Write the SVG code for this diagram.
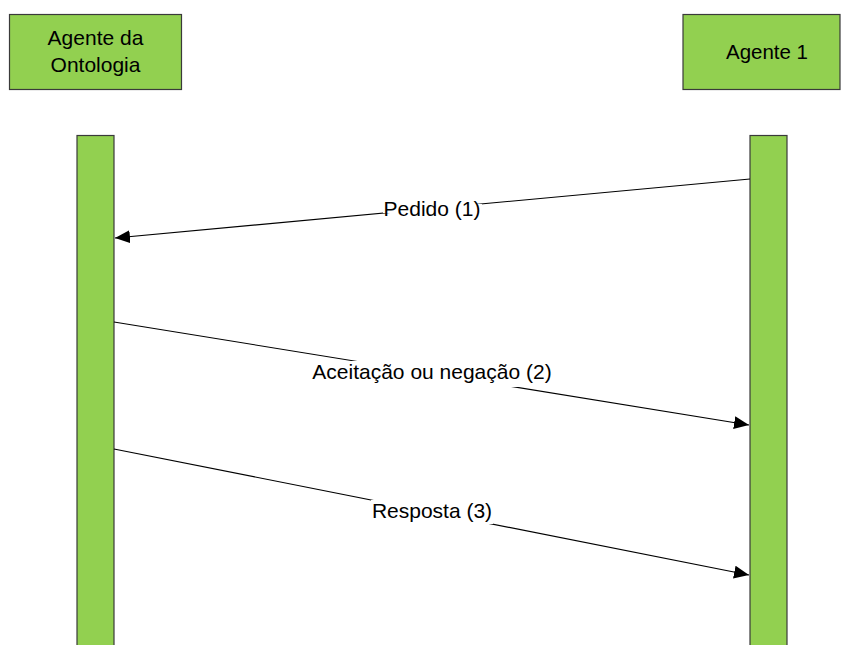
<svg xmlns="http://www.w3.org/2000/svg" width="841" height="645" viewBox="0 0 841 645">
  <style>
    .box { fill: #92d050; stroke: #3a3a3a; stroke-width: 1.2; }
    .bar { fill: #92d050; stroke: #3a3a3a; stroke-width: 1.2; }
    .lbl { font-family: "Liberation Sans", Arial, sans-serif; font-size: 21px; fill: #000; text-anchor: middle; }
    .msg { stroke: #000; stroke-width: 1.1; fill: none; marker-end: url(#arrow); }
    .gap { fill: #fff; }
  </style>
  <defs>
    <marker id="arrow" viewBox="0 0 15 13" refX="15" refY="6.5" markerWidth="15" markerHeight="13" markerUnits="userSpaceOnUse" orient="auto">
      <path d="M0,0 L15,6.5 L0,13 Z" fill="#000"/>
    </marker>
  </defs>
  <rect width="841" height="645" fill="#fff"/>

  <g id="agente-ontologia">
    <rect class="box" x="9.5" y="14.5" width="172" height="75"/>
    <text class="lbl" x="95.5" y="45">Agente da</text>
    <text class="lbl" x="95.5" y="72">Ontologia</text>
  </g>
  <g id="agente-1">
    <rect class="box" x="683" y="14.5" width="157" height="75"/>
    <text class="lbl" x="767" y="59" style="font-size:20.5px">Agente 1</text>
  </g>
  <g id="lifeline-ontologia">
    <rect class="bar" x="77" y="135.5" width="37" height="515"/>
  </g>
  <g id="lifeline-agente-1">
    <rect class="bar" x="750" y="135.5" width="37" height="515"/>
  </g>

  <g id="connectors">
    <line class="msg" x1="750" y1="179" x2="115" y2="238"/>
    <line class="msg" x1="114" y1="322" x2="749" y2="425"/>
    <line class="msg" x1="114" y1="449" x2="749" y2="575"/>
    <!-- white cut-outs where the labels interrupt the message lines -->
    <rect class="gap" x="383" y="204" width="99" height="9"/>
    <rect class="gap" x="312" y="361" width="240" height="26"/>
    <rect class="gap" x="371" y="500" width="122" height="24"/>
    <text class="lbl" x="432" y="216">Pedido (1)</text>
    <text class="lbl" x="432" y="379">Aceitação ou negação (2)</text>
    <text class="lbl" x="432" y="518">Resposta (3)</text>
  </g>
</svg>
